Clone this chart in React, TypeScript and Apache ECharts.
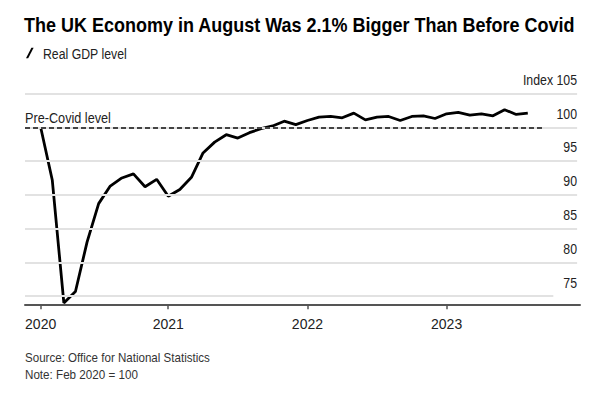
import React, { useEffect, useRef } from "react";
import * as echarts from "echarts";

const months: string[] = [
  "2020-02", "2020-03", "2020-04", "2020-05", "2020-06", "2020-07", "2020-08", "2020-09", "2020-10", "2020-11", "2020-12",
  "2021-01", "2021-02", "2021-03", "2021-04", "2021-05", "2021-06", "2021-07", "2021-08", "2021-09", "2021-10", "2021-11", "2021-12",
  "2022-01", "2022-02", "2022-03", "2022-04", "2022-05", "2022-06", "2022-07", "2022-08", "2022-09", "2022-10", "2022-11", "2022-12",
  "2023-01", "2023-02", "2023-03", "2023-04", "2023-05", "2023-06", "2023-07", "2023-08",
];

const gdpIndex: number[] = [
  100.0, 92.2, 74.0, 75.7, 83.0, 88.7, 91.3, 92.5, 93.1, 91.2, 92.3,
  89.8, 90.8, 92.6, 96.2, 97.8, 98.9, 98.4, 99.2, 99.8, 100.2, 100.9, 100.4,
  101.0, 101.5, 101.6, 101.4, 102.1, 101.1, 101.5, 101.6, 101.0, 101.6, 101.7, 101.3,
  102.0, 102.2, 101.8, 102.0, 101.7, 102.6, 101.9, 102.1,
];

const yearTickMonths: string[] = ["2020-02", "2021-01", "2022-01", "2023-01"];
const yearLabels: string[] = ["2020", "2021", "2022", "2023"];
const yTicks: number[] = [75, 80, 85, 90, 95, 100, 105];
const yTickLabels: string[] = ["75", "80", "85", "90", "95", "100", "Index 105"];
const preCovidLevel = 100;

const TITLE = "The UK Economy in August Was 2.1% Bigger Than Before Covid";
const SUBTITLE = "Real GDP level";
const SOURCE = "Source: Office for National Statistics";
const NOTE = "Note: Feb 2020 = 100";
const PRE_LABEL = "Pre-Covid level";

const FAMILY = '"Liberation Sans", Arial, sans-serif';

function measure(text: string, font: string): number {
  const c = document.createElement("canvas").getContext("2d");
  if (!c) return text.length * 7;
  c.font = font;
  return c.measureText(text).width;
}

function condensedText(
  text: string,
  x: number,
  y: number,
  size: number,
  weight: string,
  color: string,
  targetWidth: number | null,
  align: "left" | "right" = "left",
  fixedScale = 0.86
) {
  const font = `${weight} ${size}px ${FAMILY}`;
  const w = measure(text, font);
  const scaleX = targetWidth ? targetWidth / w : fixedScale;
  return {
    type: "text",
    x,
    y,
    scaleX,
    scaleY: 1,
    silent: true,
    z: 10,
    style: {
      text,
      font,
      fill: color,
      align,
      textAlign: align,
      verticalAlign: "middle",
      textVerticalAlign: "middle",
    },
  };
}

export default function App() {
  const ref = useRef<HTMLDivElement>(null);

  useEffect(() => {
    if (!ref.current) return;
    const chart = echarts.init(ref.current, null, { renderer: "svg" });

    const xMin = -1.35;
    const xMax = 46.5;
    const yearTickIdx = yearTickMonths.map((m) => months.indexOf(m));

    const gridLines = yTicks.map((v) => [
      { coord: [xMin, v] },
      { coord: [v === 75 ? 44.2 : 46.25, v] },
    ]);

    chart.setOption({
      animation: false,
      grid: { left: 25, right: 20, top: 93.5, bottom: 95.7, containLabel: false },
      xAxis: {
        type: "value",
        min: xMin,
        max: xMax,
        splitLine: { show: false },
        axisLine: { onZero: false, lineStyle: { color: "#555", width: 2 } },
        axisTick: { customValues: yearTickIdx, length: 5, lineStyle: { color: "#555", width: 1.5 } },
        axisLabel: {
          customValues: yearTickIdx,
          formatter: (v: number) => yearLabels[yearTickIdx.indexOf(Math.round(v))] ?? "",
          color: "#222",
          fontFamily: FAMILY,
          fontSize: 14,
          margin: 13,
        },
      },
      yAxis: {
        type: "value",
        position: "right",
        min: 73.8,
        max: 105,
        splitLine: { show: false },
        axisLine: { show: false },
        axisTick: { show: false },
        axisLabel: { show: false },
      },
      series: [
        {
          name: "grid",
          type: "line",
          data: [],
          z: 1,
          silent: true,
          markLine: {
            silent: true,
            symbol: "none",
            label: { show: false },
            lineStyle: { color: "#e2e2e2", width: 2, type: "solid" },
            data: gridLines,
          },
        },
        {
          name: "pre",
          type: "line",
          data: [],
          z: 2,
          silent: true,
          markLine: {
            silent: true,
            symbol: "none",
            lineStyle: { color: "#111", width: 1.5, type: [5, 3] },
            label: { show: false },
            data: [[{ coord: [xMin, preCovidLevel] }, { coord: [43.4, preCovidLevel] }]],
          },
        },
        {
          name: "Real GDP level",
          type: "line",
          z: 3,
          showSymbol: false,
          color: "#000",
          lineStyle: { color: "#000", width: 2.8 },
          data: months.map((m, i) => [i, gdpIndex[i]]),
        },
      ],
    });

    const yPx = (v: number) => chart.convertToPixel({ yAxisIndex: 0 }, v) as number;
    const xPx = (v: number) => chart.convertToPixel({ xAxisIndex: 0 }, v) as number;

    const graphics: any[] = [
      condensedText(TITLE, 24, 24, 21, "bold", "#000", 551),
      {
        type: "polygon",
        silent: true,
        shape: { points: [[26, 58.3], [28.2, 58.3], [33.6, 47.7], [31.4, 47.7]] },
        style: { fill: "#000" },
      },
      condensedText(SUBTITLE, 43, 53, 15.5, "normal", "#222", 84),
      condensedText(SOURCE, 25, 358, 13.5, "normal", "#333", 185),
      condensedText(NOTE, 25, 374.5, 13.5, "normal", "#333", 113),
      condensedText(PRE_LABEL, xPx(xMin), yPx(preCovidLevel) - 10, 15, "normal", "#222", 86),
    ];
    yTicks.forEach((v, i) => {
      graphics.push(condensedText(yTickLabels[i], 577, yPx(v) - 13.5, 14.5, "normal", "#222", null, "right", 0.85));
    });

    chart.setOption({ graphic: graphics });

    return () => chart.dispose();
  }, []);

  return (
    <div
      ref={ref}
      style={{ position: "fixed", left: 0, top: 0, width: 600, height: 400, background: "#fff" }}
    />
  );
}
